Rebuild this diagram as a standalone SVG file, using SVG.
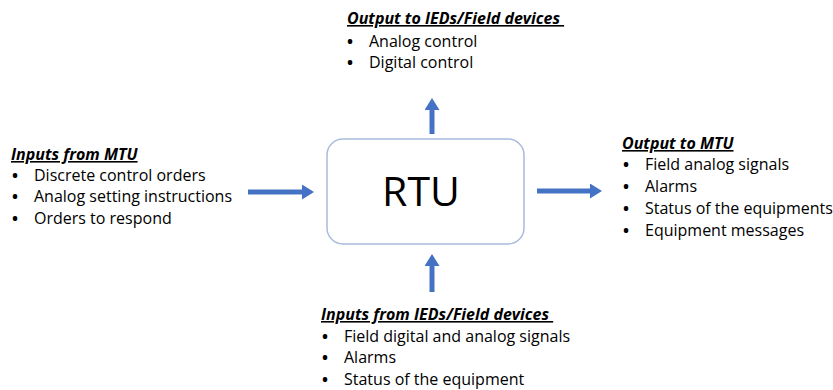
<svg xmlns="http://www.w3.org/2000/svg" width="833" height="390" viewBox="0 0 833 390">
<style>
text{font-family:"Open Sans","Noto Sans",sans-serif;fill:#000;}
.t{font-size:16px;font-weight:bold;font-style:italic;text-decoration:underline;}
.i{font-size:16px;}
.b{font-size:16px;font-weight:bold;}
.rtu{font-size:41px;}
.arr{stroke:#4472C4;stroke-width:5;fill:none;}
</style>
<defs>
<marker id="ah" markerWidth="3" markerHeight="3" refX="0" refY="1.5" orient="auto" markerUnits="strokeWidth">
<path d="M0,0 L2.4,1.5 L0,3 Z" fill="#4472C4"/>
</marker>
</defs>
<rect width="833" height="390" fill="#fff"/>
<g id="rtu">
<rect x="327" y="139" width="197" height="105" rx="16" fill="#fff" stroke="#A9BBDC" stroke-width="1.5"/>
<text class="rtu" x="421" y="206" text-anchor="middle">RTU</text>
</g>
<g id="connectors">
<line class="arr" x1="248" y1="192" x2="302" y2="192" marker-end="url(#ah)"/>
<line class="arr" x1="537" y1="191" x2="590" y2="191" marker-end="url(#ah)"/>
<line class="arr" x1="432" y1="134" x2="432" y2="110" marker-end="url(#ah)"/>
<line class="arr" x1="432" y1="292" x2="432" y2="266" marker-end="url(#ah)"/>
</g>
<g id="inputs-mtu">
<text class="t" x="11" y="160">Inputs from MTU</text>
<text class="b" x="12" y="181">•</text><text class="i" x="34" y="181">Discrete control orders</text>
<text class="b" x="12" y="202">•</text><text class="i" x="34" y="202">Analog setting instructions</text>
<text class="b" x="12" y="224">•</text><text class="i" x="34" y="224">Orders to respond</text>
</g>
<g id="output-ieds">
<text class="t" x="347" y="24" xml:space="preserve">Output to IEDs/Field devices&#160;</text>
<text class="b" x="347" y="47">•</text><text class="i" x="369" y="47">Analog control</text>
<text class="b" x="347" y="68">•</text><text class="i" x="369" y="68">Digital control</text>
</g>
<g id="output-mtu">
<text class="t" x="622" y="149">Output to MTU</text>
<text class="b" x="623" y="170">•</text><text class="i" x="645" y="170">Field analog signals</text>
<text class="b" x="623" y="192">•</text><text class="i" x="645" y="192">Alarms</text>
<text class="b" x="623" y="214">•</text><text class="i" x="645" y="214">Status of the equipments</text>
<text class="b" x="623" y="236">•</text><text class="i" x="645" y="236">Equipment messages</text>
</g>
<g id="inputs-ieds">
<text class="t" x="321" y="320" xml:space="preserve">Inputs from IEDs/Field devices&#160;</text>
<text class="b" x="322" y="342">•</text><text class="i" x="344" y="342">Field digital and analog signals</text>
<text class="b" x="322" y="363">•</text><text class="i" x="344" y="363">Alarms</text>
<text class="b" x="322" y="385">•</text><text class="i" x="344" y="385">Status of the equipment</text>
</g>
</svg>
